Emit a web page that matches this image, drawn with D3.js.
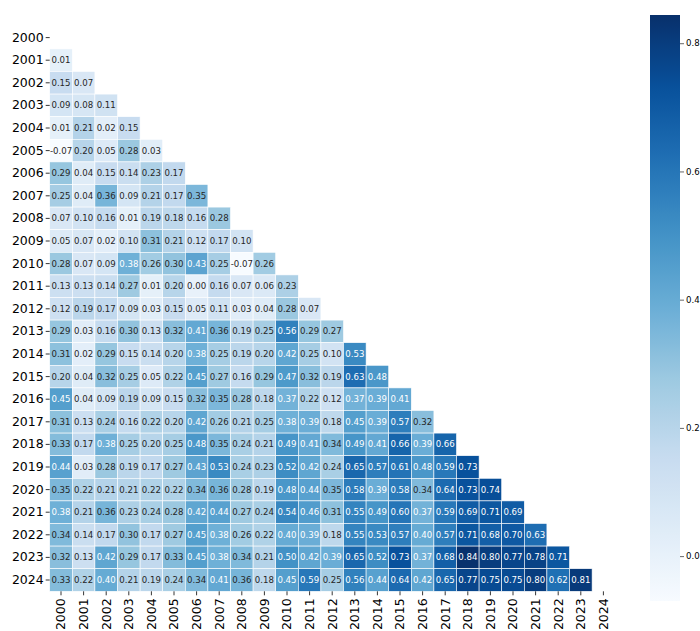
<!DOCTYPE html>
<html>
<head>
<meta charset="utf-8">
<script src="https://cdn.jsdelivr.net/npm/d3@7"></script>
<style>
  html, body { margin: 0; padding: 0; background: #fff; }
  svg { display: block; font-family: "DejaVu Sans", sans-serif; }
</style>
</head>
<body>
<svg id="chart" width="700" height="631"></svg>
<script>
// Years on both axes
const years = d3.range(2000, 2025).map(String);

// Lower-triangle correlation values: row k holds year 2000+k against 2000..(2000+k-1)
const lowerTriangle = [
  [],
  [0.01],
  [0.15, 0.07],
  [0.09, 0.08, 0.11],
  [0.01, 0.21, 0.02, 0.15],
  [-0.07, 0.20, 0.05, 0.28, 0.03],
  [0.29, 0.04, 0.15, 0.14, 0.23, 0.17],
  [0.25, 0.04, 0.36, 0.09, 0.21, 0.17, 0.35],
  [0.07, 0.10, 0.16, 0.01, 0.19, 0.18, 0.16, 0.28],
  [0.05, 0.07, 0.02, 0.10, 0.31, 0.21, 0.12, 0.17, 0.10],
  [0.28, 0.07, 0.09, 0.38, 0.26, 0.30, 0.43, 0.25, -0.07, 0.26],
  [0.13, 0.13, 0.14, 0.27, 0.01, 0.20, 0.00, 0.16, 0.07, 0.06, 0.23],
  [0.12, 0.19, 0.17, 0.09, 0.03, 0.15, 0.05, 0.11, 0.03, 0.04, 0.28, 0.07],
  [0.29, 0.03, 0.16, 0.30, 0.13, 0.32, 0.41, 0.36, 0.19, 0.25, 0.56, 0.29, 0.27],
  [0.31, 0.02, 0.29, 0.15, 0.14, 0.20, 0.38, 0.25, 0.19, 0.20, 0.42, 0.25, 0.10, 0.53],
  [0.20, 0.04, 0.32, 0.25, 0.05, 0.22, 0.45, 0.27, 0.16, 0.29, 0.47, 0.32, 0.19, 0.63, 0.48],
  [0.45, 0.04, 0.09, 0.19, 0.09, 0.15, 0.32, 0.35, 0.28, 0.18, 0.37, 0.22, 0.12, 0.37, 0.39, 0.41],
  [0.31, 0.13, 0.24, 0.16, 0.22, 0.20, 0.42, 0.26, 0.21, 0.25, 0.38, 0.39, 0.18, 0.45, 0.39, 0.57, 0.32],
  [0.33, 0.17, 0.38, 0.25, 0.20, 0.25, 0.48, 0.35, 0.24, 0.21, 0.49, 0.41, 0.34, 0.49, 0.41, 0.66, 0.39, 0.66],
  [0.44, 0.03, 0.28, 0.19, 0.17, 0.27, 0.43, 0.53, 0.24, 0.23, 0.52, 0.42, 0.24, 0.65, 0.57, 0.61, 0.48, 0.59, 0.73],
  [0.35, 0.22, 0.21, 0.21, 0.22, 0.22, 0.34, 0.36, 0.28, 0.19, 0.48, 0.44, 0.35, 0.58, 0.39, 0.58, 0.34, 0.64, 0.73, 0.74],
  [0.38, 0.21, 0.36, 0.23, 0.24, 0.28, 0.42, 0.44, 0.27, 0.24, 0.54, 0.46, 0.31, 0.55, 0.49, 0.60, 0.37, 0.59, 0.69, 0.71, 0.69],
  [0.34, 0.14, 0.17, 0.30, 0.17, 0.27, 0.45, 0.38, 0.26, 0.22, 0.40, 0.39, 0.18, 0.55, 0.53, 0.57, 0.40, 0.57, 0.71, 0.68, 0.70, 0.63],
  [0.32, 0.13, 0.42, 0.29, 0.17, 0.33, 0.45, 0.38, 0.34, 0.21, 0.50, 0.42, 0.39, 0.65, 0.52, 0.73, 0.37, 0.68, 0.84, 0.80, 0.77, 0.78, 0.71],
  [0.33, 0.22, 0.40, 0.21, 0.19, 0.24, 0.34, 0.41, 0.36, 0.18, 0.45, 0.59, 0.25, 0.56, 0.44, 0.64, 0.42, 0.65, 0.77, 0.75, 0.75, 0.80, 0.62, 0.81]
];

// Colour bar ticks
const colorbarTicks = [0.0, 0.2, 0.4, 0.6, 0.8];

// Flatten into cells
const cells = [];
lowerTriangle.forEach((row, r) => {
  row.forEach((v, c) => cells.push({ row: years[r], col: years[c], value: v }));
});

const svg = d3.select("#chart");

// Geometry
const plotLeft = 49.7, plotTop = 26.3, cellSize = 22.6;
const plotBottom = plotTop + cellSize * years.length;
const x = d3.scaleBand().domain(years).range([plotLeft, plotLeft + cellSize * years.length]).padding(0);
const y = d3.scaleBand().domain(years).range([plotTop, plotBottom]).padding(0);

// Sequential "Blues" colour map (linear through the ColorBrewer anchors)
const bluesAnchors = ["#f7fbff", "#deebf7", "#c6dbef", "#9ecae1", "#6baed6",
                      "#4292c6", "#2171b5", "#08519c", "#08306b"];
const vmin = -0.07, vmax = 0.844;
const color = d3.scaleLinear()
  .domain(bluesAnchors.map((_, i) => vmin + (vmax - vmin) * i / (bluesAnchors.length - 1)))
  .range(bluesAnchors)
  .interpolate(d3.interpolateRgb)
  .clamp(true);

// Relative luminance for choosing annotation colour
function luminance(c) {
  const rgb = d3.rgb(c);
  const lin = [rgb.r, rgb.g, rgb.b].map(v => {
    v /= 255;
    return v <= 0.03928 ? v / 12.92 : Math.pow((v + 0.055) / 1.055, 2.4);
  });
  return 0.2126 * lin[0] + 0.7152 * lin[1] + 0.0722 * lin[2];
}

// Cells
const g = svg.append("g");
g.selectAll("rect.cell")
  .data(cells)
  .join("rect")
  .attr("class", "cell")
  .attr("x", d => x(d.col))
  .attr("y", d => y(d.row))
  .attr("width", x.bandwidth())
  .attr("height", y.bandwidth())
  .attr("fill", d => color(d.value))
  .attr("stroke", "#ffffff")
  .attr("stroke-width", 0.6);

// Annotations
g.selectAll("text.ann")
  .data(cells)
  .join("text")
  .attr("class", "ann")
  .attr("x", d => x(d.col) + x.bandwidth() / 2)
  .attr("y", d => y(d.row) + y.bandwidth() / 2)
  .attr("text-anchor", "middle")
  .attr("dominant-baseline", "central")
  .attr("font-size", "8.6px")
  .attr("fill", d => luminance(color(d.value)) > 0.408 ? "#262626" : "#ffffff")
  .text(d => d.value.toFixed(2));

// Axes
const yAxis = d3.axisLeft(y).tickSize(4).tickPadding(2);
const yG = svg.append("g").attr("transform", `translate(${plotLeft},0)`).call(yAxis);
yG.select(".domain").remove();
yG.selectAll("text").attr("font-size", "12.5px").attr("fill", "#000").attr("font-family", "DejaVu Sans, sans-serif");
yG.selectAll("line").attr("stroke", "#000").attr("stroke-width", 0.8);

const xAxis = d3.axisBottom(x).tickSize(4).tickPadding(2);
const xG = svg.append("g").attr("transform", `translate(0,${plotBottom})`).call(xAxis);
xG.select(".domain").remove();
xG.selectAll("line").attr("stroke", "#000").attr("stroke-width", 0.8);
xG.selectAll("text")
  .attr("font-size", "12.5px")
  .attr("fill", "#000")
  .attr("font-family", "DejaVu Sans, sans-serif")
  .attr("transform", "rotate(-90)")
  .attr("text-anchor", "end")
  .attr("x", -7)
  .attr("y", 0)
  .attr("dy", "0.35em");

// Colour bar
const cbX = 650, cbW = 30, cbTop = 15, cbBottom = 601;
const cbScale = d3.scaleLinear().domain([vmin, vmax]).range([cbBottom, cbTop]);
const defs = svg.append("defs");
const grad = defs.append("linearGradient")
  .attr("id", "cbGrad").attr("x1", 0).attr("y1", 1).attr("x2", 0).attr("y2", 0);
d3.range(0, 1.0001, 0.02).forEach(t => {
  grad.append("stop").attr("offset", t).attr("stop-color", color(vmin + t * (vmax - vmin)));
});
svg.append("rect")
  .attr("x", cbX).attr("y", cbTop)
  .attr("width", cbW).attr("height", cbBottom - cbTop)
  .attr("fill", "url(#cbGrad)");

const cbAxis = d3.axisRight(cbScale).tickValues(colorbarTicks).tickFormat(d3.format(".1f")).tickSize(4).tickPadding(2);
const cbG = svg.append("g").attr("transform", `translate(${cbX + cbW},0)`).call(cbAxis);
cbG.select(".domain").remove();
cbG.selectAll("line").attr("stroke", "#000").attr("stroke-width", 0.6);
cbG.selectAll("text").attr("font-size", "8.6px").attr("fill", "#000").attr("font-family", "DejaVu Sans, sans-serif");
</script>
</body>
</html>
